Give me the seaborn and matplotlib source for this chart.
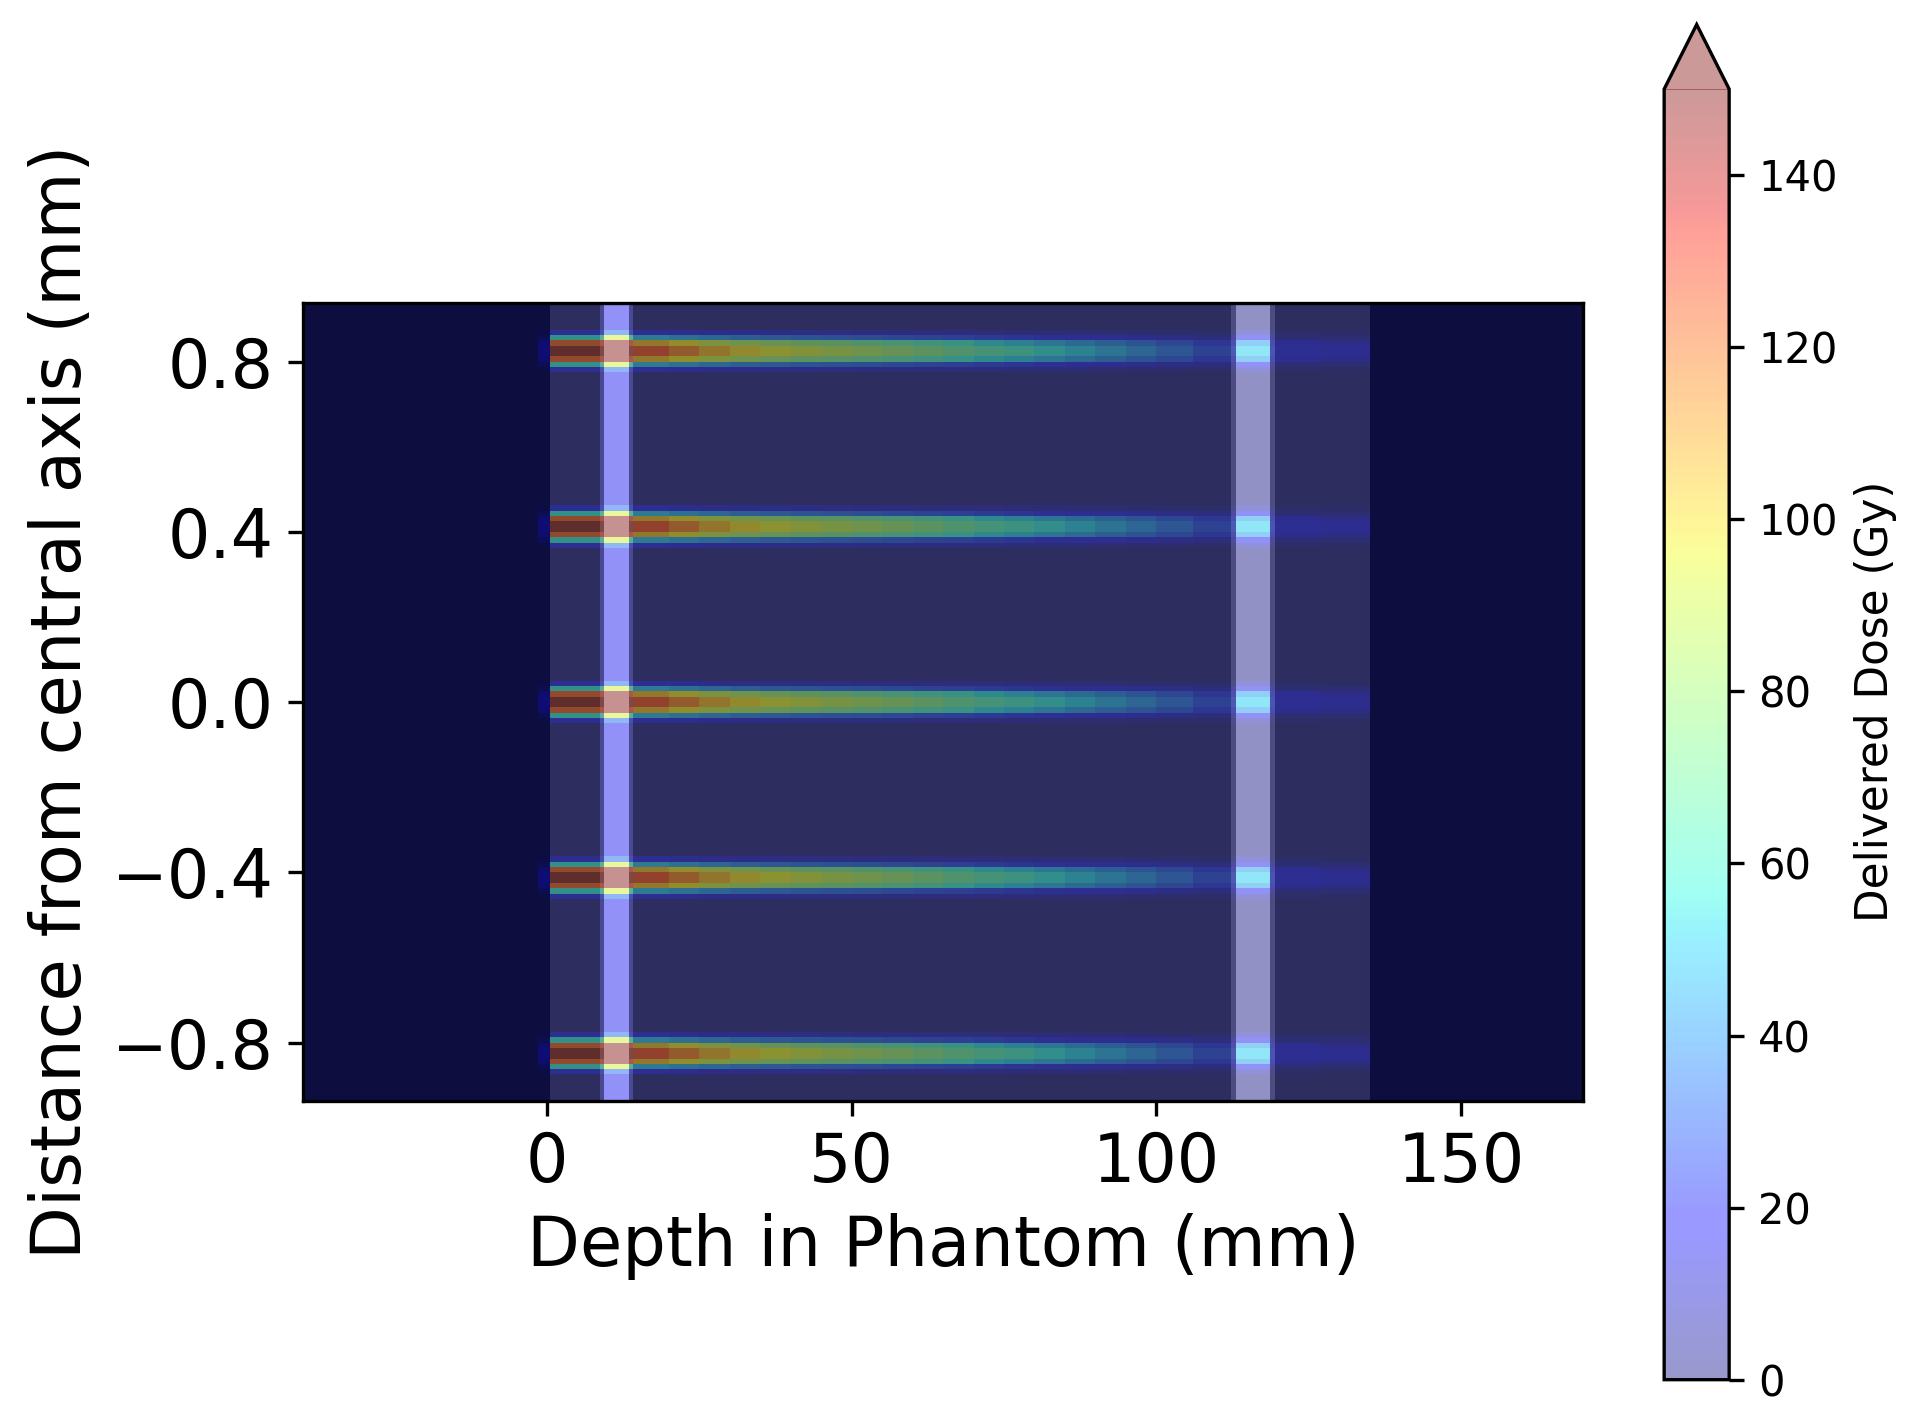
import numpy as np
import matplotlib
matplotlib.use("Agg")
import matplotlib.pyplot as plt
import matplotlib.ticker as mticker
import seaborn as sns

# =============================
# Phantom (grey underlay)
# =============================
material_edges_mm = [-40, 0.5, 8.7, 9.4, 13.5, 14.2, 112.2, 113.0, 118.6, 119.4, 135, 170]
material_grey = [0.09, 0.294, 0.48, 0.95, 0.48, 0.294, 0.5, 0.95, 0.5, 0.294, 0.09]

# =============================
# Dose read along each beamlet axis (Gy)
# =============================
depth_edges_mm = [-40, -1.5, 0.5, 8.7, 9.4, 13.5, 14.2,
                  20, 25, 30, 35, 40, 45, 50, 55, 60, 65, 70, 75, 80, 85, 90, 95, 100,
                  106, 112.2, 113.0, 118.6, 119.4, 127, 135, 170]
peak_dose_gy = [0, 18, 150, 160, 250, 160,
                128, 118, 108, 100, 95, 91, 87, 83, 79, 74, 69, 64, 60, 55, 50, 45, 40,
                34, 27, 24, 50, 22, 19, 16, 0]
# dose spread over the whole first insert column
column_floor_gy = [0, 0, 0, 8, 17, 8] + [0] * 25

# lateral shape of one beamlet, one value per dose row
beam_centres_mm = [0.82, 0.41, 0.0, -0.41, -0.82]
lateral_profile = [0.13, 0.37, 0.83, 1.0, 1.0, 0.83, 0.37, 0.13]
row_height_mm = 0.0125
half_height_mm = 0.9375

# =============================
# Build dose table
# =============================
n_rows = int(round(2 * half_height_mm / row_height_mm))
y_edges = np.linspace(-half_height_mm, half_height_mm, n_rows + 1)
shape = np.zeros(n_rows)
half = len(lateral_profile) // 2
for c in beam_centres_mm:
    k = int(round((c + half_height_mm) / row_height_mm))
    shape[k - half:k + half] = lateral_profile
dose = np.maximum(np.outer(shape, peak_dose_gy), np.array(column_floor_gy)[None, :])

# =============================
# Plotting
# =============================
sns.set_style("ticks", rc={
    "axes.edgecolor": "black",
    "text.color": "black",
    "axes.labelcolor": "black",
    "xtick.color": "black",
    "ytick.color": "black",
    "xtick.major.size": 3.5,
    "ytick.major.size": 3.5,
    "axes.linewidth": 0.8,
})
plt.rcParams["font.family"] = ["DejaVu Sans"]

fig = plt.figure(figsize=(6.41, 4.73), dpi=300)
ax = fig.add_axes([0.1575, 0.2239, 0.6658, 0.5626])
cax = fig.add_axes([0.8654, 0.0277, 0.0338, 0.955])

ax.pcolormesh(material_edges_mm, [-half_height_mm, half_height_mm],
              np.array(material_grey)[None, :], cmap="gray", vmin=0, vmax=1)
mesh = ax.pcolormesh(depth_edges_mm, y_edges, dose, cmap="jet",
                     vmin=0, vmax=150, alpha=0.4)

ax.set_xlim(-40, 170)
ax.set_ylim(-0.938, 0.938)
ax.xaxis.set_major_locator(mticker.MultipleLocator(50))
ax.yaxis.set_major_locator(mticker.MultipleLocator(0.4))
ax.tick_params(labelsize=16)
ax.set_xlabel("Depth in Phantom (mm)", fontsize=16.5)
ax.set_ylabel("Distance from central axis (mm)", fontsize=16.5)

cbar = fig.colorbar(mesh, cax=cax, extend="max")
cbar.set_ticks(list(range(0, 141, 20)))
cbar.ax.tick_params(labelsize=10)
cbar.set_label("Delivered Dose (Gy)", fontsize=10.5, y=0.526)

plt.savefig("out.png", dpi=300)
